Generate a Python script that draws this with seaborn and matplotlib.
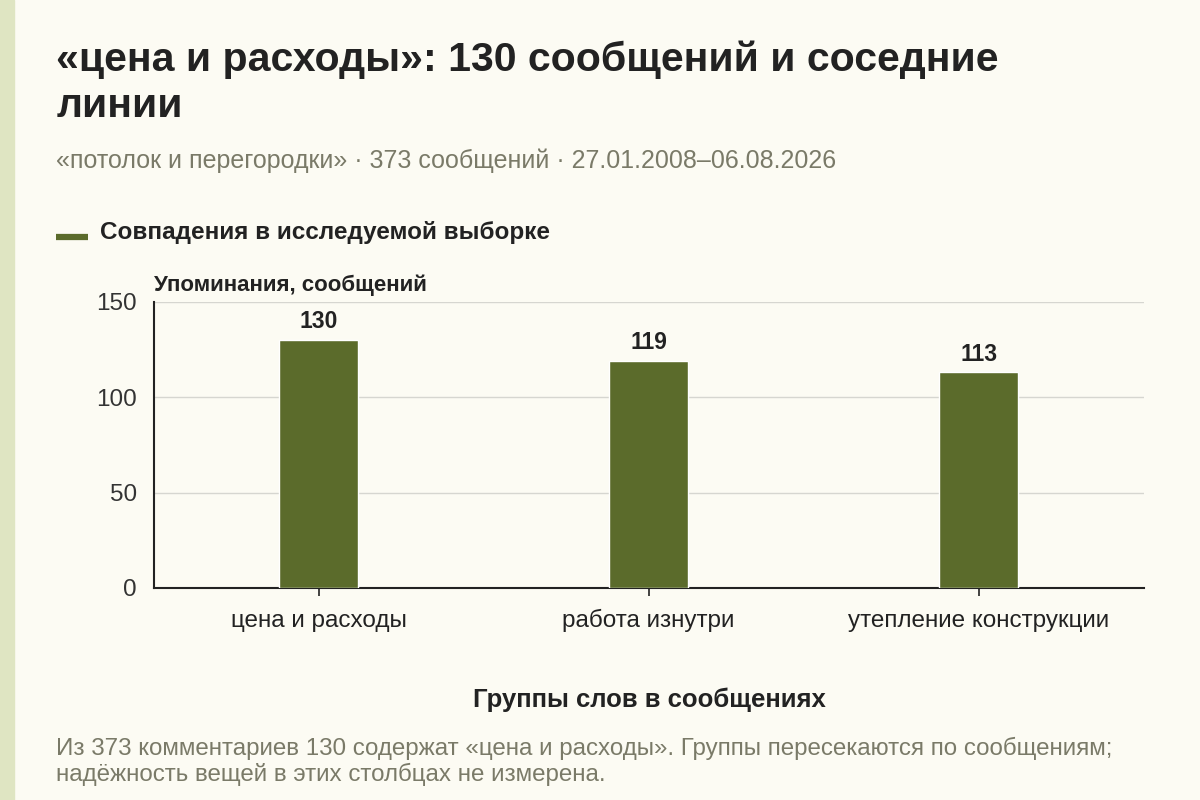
import matplotlib
matplotlib.use('Agg')
import matplotlib.pyplot as plt
import seaborn as sns
import pandas as pd

# Data
groups = ['цена и расходы', 'работа изнутри', 'утепление конструкции']
mentions = [130, 119, 113]
y_ticks = [0, 50, 100, 150]

bg = '#fcfbf3'
bar_color = '#5b6b2b'
text_dark = '#222222'
text_muted = '#7a7a68'

sns.set_theme(style='white')
plt.rcParams['font.family'] = ['Liberation Sans', 'DejaVu Sans']

df = pd.DataFrame({'group': groups, 'mentions': mentions})

fig = plt.figure(figsize=(12, 8), dpi=100, facecolor=bg)
ax = fig.add_axes([0.128, 0.265, 0.825, 0.358])
ax.set_facecolor(bg)

sns.barplot(data=df, x='group', y='mentions', color=bar_color, width=0.24,
            saturation=1, ax=ax, zorder=3)

# value labels above bars
for i, v in enumerate(mentions):
    ax.text(i, v + 3.5, str(v), ha='center', va='bottom', fontsize=16.5,
            fontweight='bold', color=text_dark)

ax.set_ylim(0, 150)
ax.set_xlim(-0.5, 2.5)
ax.set_yticks(y_ticks)
ax.yaxis.grid(True, color='#d6d6d0', linewidth=1, zorder=0)
ax.tick_params(axis='y', length=0, labelsize=17.5, colors='#333333', pad=12)
ax.tick_params(axis='x', length=6, width=1.2, color=text_dark, labelsize=17.5,
               labelcolor='#222222', pad=22, bottom=True)
for lbl in ax.get_xticklabels():
    lbl.set_va('baseline')
for side in ['top', 'right']:
    ax.spines[side].set_visible(False)
for side in ['left', 'bottom']:
    ax.spines[side].set_color(text_dark)
    ax.spines[side].set_linewidth(1.5)
ax.set_ylabel('')
ax.set_xlabel('')

# x-axis title
fig.text(0.541, 0.125, 'Группы слов в сообщениях', fontsize=18.5, fontweight='bold',
         color=text_dark, ha='center', va='center')

# left accent stripe
fig.patches.append(plt.Rectangle((0, 0), 0.012, 1, transform=fig.transFigure,
                                 color='#dfe5c2', zorder=0))

# title block
fig.text(0.047, 0.925, '«цена и расходы»: 130 сообщений и соседние',
         fontsize=29.5, fontweight='bold', color=text_dark, va='center')
fig.text(0.047, 0.867, 'линии',
         fontsize=29.5, fontweight='bold', color=text_dark, va='center')
fig.text(0.047, 0.799, '«потолок и перегородки» · 373 сообщений · 27.01.2008–06.08.2026',
         fontsize=18, color=text_muted, va='center')

# legend
leg_line = plt.Line2D([0.047, 0.073], [0.7035, 0.7035], transform=fig.transFigure,
                      color=bar_color, linewidth=4.5, solid_capstyle='butt')
fig.lines.append(leg_line)
fig.text(0.083, 0.710, 'Совпадения в исследуемой выборке', fontsize=17.5,
         fontweight='bold', color=text_dark, va='center')

# y-axis title
fig.text(0.128, 0.644, 'Упоминания, сообщений', fontsize=16, fontweight='bold',
         color=text_dark, va='center')

# footnote
fig.text(0.047, 0.064,
         'Из 373 комментариев 130 содержат «цена и расходы». Группы пересекаются по сообщениям;',
         fontsize=17.4, color=text_muted, va='center')
fig.text(0.047, 0.032, 'надёжность вещей в этих столбцах не измерена.',
         fontsize=17.4, color=text_muted, va='center')

fig.savefig('out.png', dpi=100, facecolor=bg)
